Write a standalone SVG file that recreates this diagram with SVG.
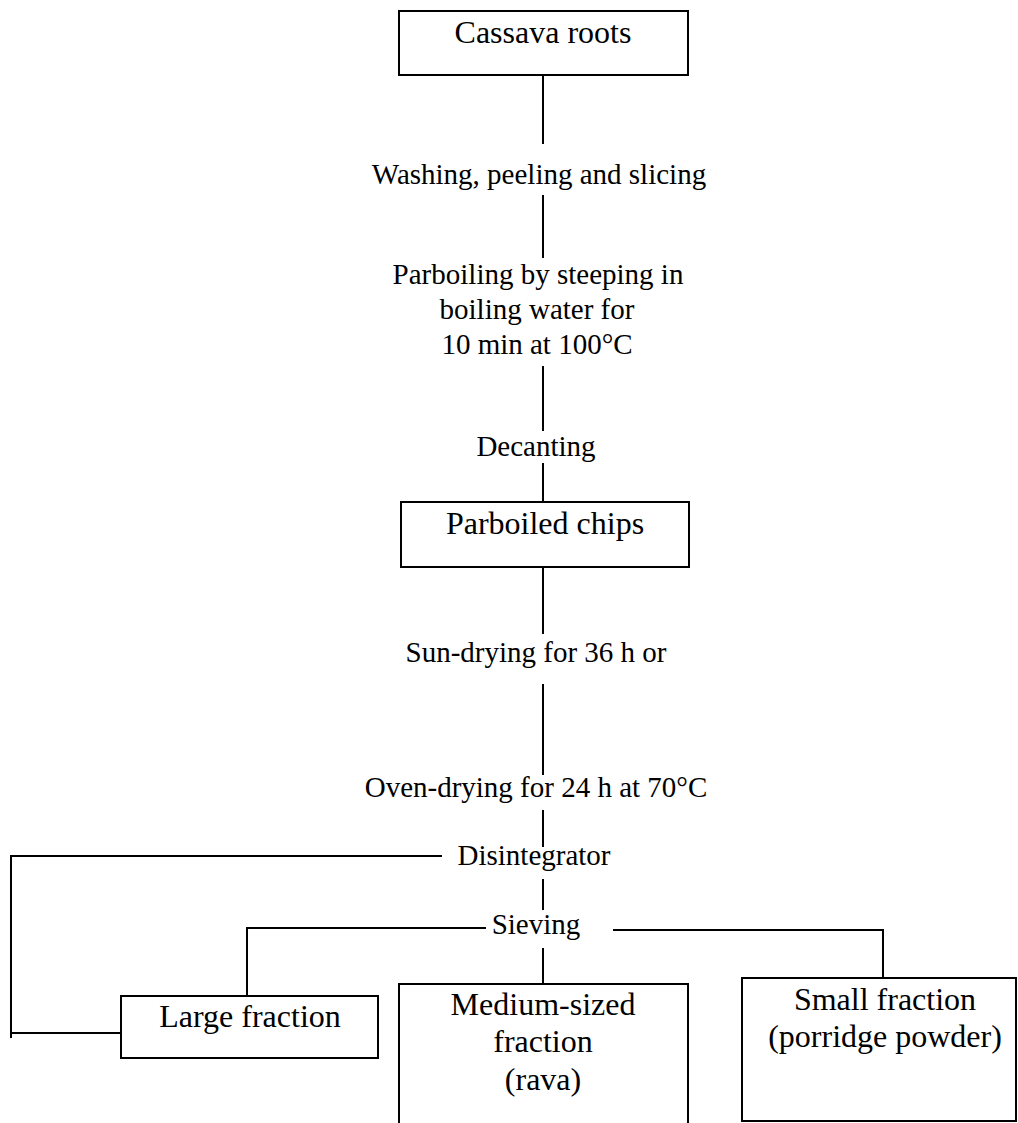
<svg xmlns="http://www.w3.org/2000/svg" width="1018" height="1123" viewBox="0 0 1018 1123">
<style>
.box{fill:#fff;stroke:#000;stroke-width:2}
.ln{fill:none;stroke:#000;stroke-width:2}
.bt{font-family:"Liberation Serif","Times New Roman",serif;font-size:32px;text-anchor:middle;fill:#000}
.lt{font-family:"Liberation Serif","Times New Roman",serif;font-size:29px;text-anchor:middle;fill:#000}
</style>
<rect width="1018" height="1123" fill="#fff"/>
<g id="connectors">
<path class="ln" d="M543,75 V144"/>
<path class="ln" d="M543,195 V258"/>
<path class="ln" d="M543,366 V431"/>
<path class="ln" d="M543,463 V502"/>
<path class="ln" d="M543,567 V634"/>
<path class="ln" d="M543,684 V775"/>
<path class="ln" d="M543,810 V847"/>
<path class="ln" d="M543,879 V910"/>
<path class="ln" d="M543,948 V984"/>
<path class="ln" d="M442,856 H11 V1038"/>
<path class="ln" d="M11,1033 H121"/>
<path class="ln" d="M486,928 H247 V996"/>
<path class="ln" d="M613,930 H883 V978"/>
</g>
<g id="cassava">
<rect class="box" x="399" y="11" width="289" height="64"/>
<text class="bt" x="543" y="43">Cassava roots</text>
</g>
<g id="washing">
<text class="lt" x="539" y="184">Washing, peeling and slicing</text>
</g>
<g id="parboiling">
<text class="lt" x="538" y="284">Parboiling by steeping in</text>
<text class="lt" x="537" y="319">boiling water for</text>
<text class="lt" x="537" y="354">10 min at 100°C</text>
</g>
<g id="decanting">
<text class="lt" x="536" y="456">Decanting</text>
</g>
<g id="parboiled">
<rect class="box" x="401" y="502" width="288" height="65"/>
<text class="bt" x="545" y="534">Parboiled chips</text>
</g>
<g id="sundrying">
<text class="lt" x="536" y="662">Sun-drying for 36 h or</text>
</g>
<g id="ovendrying">
<text class="lt" x="536" y="797">Oven-drying for 24 h at 70°C</text>
</g>
<g id="disintegrator">
<text class="lt" x="534" y="865">Disintegrator</text>
</g>
<g id="sieving">
<text class="lt" x="536" y="934">Sieving</text>
</g>
<g id="large">
<rect class="box" x="121" y="996" width="257" height="62"/>
<text class="bt" x="250" y="1027">Large fraction</text>
</g>
<g id="medium">
<path class="ln" d="M399,1123 V984 H688 V1123"/>
<text class="bt" x="543" y="1015">Medium-sized</text>
<text class="bt" x="543" y="1052">fraction</text>
<text class="bt" x="543" y="1090">(rava)</text>
</g>
<g id="small">
<rect class="box" x="742" y="978" width="274" height="143"/>
<text class="bt" x="885" y="1010">Small fraction</text>
<text class="bt" x="885" y="1047">(porridge powder)</text>
</g>
</svg>
